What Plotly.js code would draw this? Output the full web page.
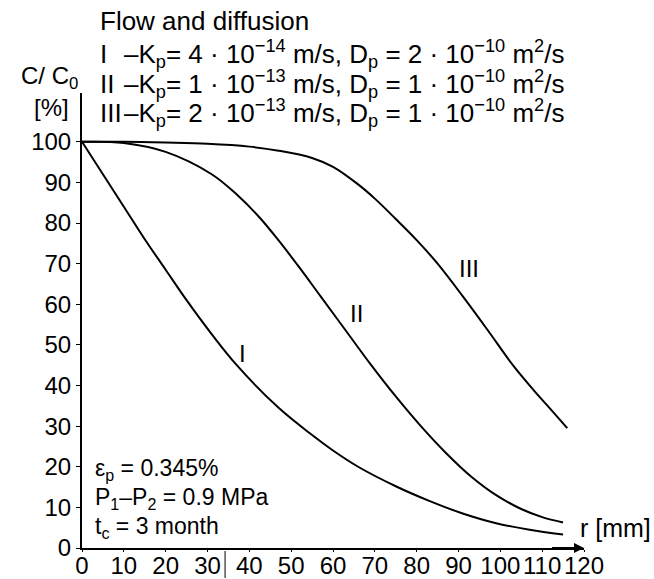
<!DOCTYPE html>
<html>
<head>
<meta charset="utf-8">
<script src="https://cdn.plot.ly/plotly-3.0.1.min.js"></script>
<style>
  html, body { margin: 0; padding: 0; background: #fff; }
  #chart { width: 654px; height: 579px; }
</style>
</head>
<body>
<div id="chart"></div>
<script>
// Concentration profiles C/C0 versus radius r for three flow/diffusion cases
const rI   = [0, 5, 10, 15, 20, 25, 30, 37, 47, 55, 60, 66, 75, 83, 91, 99, 107, 115];
const cI   = [100, 92, 84, 76, 68.5, 61, 54, 45, 34.5, 27.8, 24, 20, 15.2, 11.6, 8.5, 6.1, 4.5, 3.3];

const rII  = [0, 10, 20, 31, 37, 42.5, 47, 52, 57, 63, 69, 75, 81, 87, 93, 99, 105, 110, 115];
const cII  = [100, 99.7, 97.5, 92, 87, 81.3, 75.7, 69, 62, 53.6, 45.2, 37.3, 30, 23.4, 17.6, 13, 9.6, 7.6, 6.3];

const rIII = [0, 10, 20, 30, 40, 47, 55, 60, 66, 70, 75, 80, 85, 91, 97, 103, 108, 112, 116];
const cIII = [100, 100, 99.8, 99.5, 98.8, 97.8, 96, 93.8, 89.5, 86, 81, 75.8, 70, 62, 53.6, 45, 38.8, 34.2, 29.5];

const curveNames = ['I', 'II', 'III'];
const xTicks = [0, 10, 20, 30, 40, 50, 60, 70, 80, 90, 100, 110, 120];
const yTicks = [0, 10, 20, 30, 40, 50, 60, 70, 80, 90, 100];

const FONT = 'Liberation Sans, Arial, sans-serif';
const W = 654, H = 579;
const M = { l: 82, r: 70, t: 93, b: 31 };
const plotW = W - M.l - M.r, plotH = H - M.t - M.b;
// pixel -> paper helpers for free-standing labels
const px = x => (x - M.l) / plotW;
const py = y => (H - M.b - y) / plotH;

const lineStyle = { color: '#000', width: 2, shape: 'spline', smoothing: 1 };
const traces = [
  { x: rI, y: cI, name: curveNames[0], mode: 'lines', line: lineStyle, hoverinfo: 'skip' },
  { x: rII, y: cII, name: curveNames[1], mode: 'lines', line: lineStyle, hoverinfo: 'skip' },
  { x: rIII, y: cIII, name: curveNames[2], mode: 'lines', line: lineStyle, hoverinfo: 'skip' }
];

function txt(x, y, text, size, anchor) {
  return { xref: 'paper', yref: 'paper', x: px(x), y: py(y), text: text, showarrow: false,
           xanchor: anchor || 'left', yanchor: 'middle', font: { family: FONT, size: size || 24, color: '#000' } };
}

const annotations = [
  txt(98, 21, 'Flow and diffusion', 26),
  txt(98, 54, 'I', 26),
  txt(98, 84, 'II', 26),
  txt(98, 113, 'III', 26),
  txt(122, 54, '–K<sub>p</sub>= 4 · 10<sup>−14</sup> m/s, D<sub>p</sub> = 2 · 10<sup>−10</sup> m<sup>2</sup>/s', 26),
  txt(122, 84, '–K<sub>p</sub>= 1 · 10<sup>−13</sup> m/s, D<sub>p</sub> = 1 · 10<sup>−10</sup> m<sup>2</sup>/s', 26),
  txt(122, 113, '–K<sub>p</sub>= 2 · 10<sup>−13</sup> m/s, D<sub>p</sub> = 1 · 10<sup>−10</sup> m<sup>2</sup>/s', 26),
  txt(80, 78, 'C/ C<sub>0</sub>', 24, 'right'),
  txt(71, 107, '[%]', 24, 'right'),
  txt(93, 469, 'ε<sub>p</sub> = 0.345%', 23),
  txt(93, 498, 'P<sub>1</sub>–P<sub>2</sub> = 0.9 MPa', 23),
  txt(93, 527, 't<sub>c</sub> = 3 month', 23),
  txt(578, 528, 'r [mm]', 25),
  // curve labels
  { x: 38.4, y: 48, text: curveNames[0], showarrow: false, font: { family: FONT, size: 24, color: '#000' } },
  { x: 65.6, y: 57.7, text: curveNames[1], showarrow: false, font: { family: FONT, size: 24, color: '#000' } },
  { x: 92.6, y: 68.8, text: curveNames[2], showarrow: false, font: { family: FONT, size: 24, color: '#000' } },
  // arrow head on the r axis
  { x: 120, y: 0, ax: 112, ay: 0, axref: 'x', ayref: 'y', text: '', showarrow: true,
    arrowhead: 2, arrowsize: 1, arrowwidth: 2, arrowcolor: '#000' }
];

const layout = {
  width: W, height: H,
  margin: M,
  paper_bgcolor: '#fff', plot_bgcolor: '#fff',
  showlegend: false,
  font: { family: FONT, size: 24, color: '#000' },
  xaxis: {
    range: [0, 120], tickvals: xTicks, ticktext: xTicks.map(String),
    showline: true, linecolor: '#000', linewidth: 2, showgrid: false, zeroline: false,
    ticks: 'outside', ticklen: 2, tickwidth: 1, tickcolor: '#000', ticklabelstandoff: -7,
    tickfont: { family: FONT, size: 24, color: '#000' }, fixedrange: true
  },
  yaxis: {
    range: [0, 112], tickvals: yTicks, ticktext: yTicks.map(String),
    showline: true, linecolor: '#000', linewidth: 2, showgrid: false, zeroline: false,
    ticks: 'outside', ticklen: 4, tickwidth: 1, tickcolor: '#000',
    tickfont: { family: FONT, size: 24, color: '#000' }, fixedrange: true
  },
  shapes: [
    // short stroke below the axis between 30 and 40
    { type: 'line', xref: 'x', yref: 'paper', x0: 34.2, x1: 34.2, y0: py(551), y1: py(578),
      line: { color: '#000', width: 1 } }
  ],
  annotations: annotations
};

Plotly.newPlot('chart', traces, layout, { displayModeBar: false, staticPlot: true });
</script>
</body>
</html>
